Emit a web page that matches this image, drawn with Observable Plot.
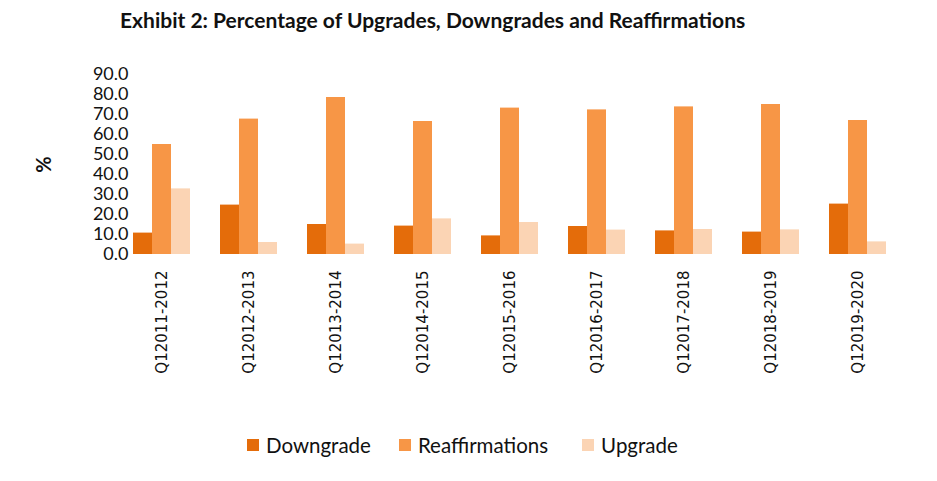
<!DOCTYPE html>
<html>
<head>
<meta charset="utf-8">
<script src="https://cdn.jsdelivr.net/npm/d3@7"></script>
<script src="https://cdn.jsdelivr.net/npm/@observablehq/plot@0.6"></script>
<style>
  html, body { margin: 0; padding: 0; background: #fff; }
  body { width: 937px; height: 481px; overflow: hidden; position: relative; font-family: Lato, "Open Sans", sans-serif; }
  #title { position: absolute; left: 120px; top: 7px; font-family: Lato, sans-serif; font-weight: bold; font-size: 21px; color: #111; white-space: nowrap; }
  #chart { position: absolute; left: 0; top: 40px; }
  #legend { position: absolute; left: 247px; top: 433px; display: flex; align-items: center; font-family: Lato, sans-serif; font-size: 20.5px; color: #111; }
  .item { display: flex; align-items: center; }
  .sw { width: 12px; height: 12px; margin-right: 7px; }
</style>
</head>
<body>
<div id="title">Exhibit 2: Percentage of Upgrades, Downgrades and Reaffirmations</div>
<div id="chart"></div>
<div id="legend"></div>
<script>
const periods = ["Q12011-2012","Q12012-2013","Q12013-2014","Q12014-2015","Q12015-2016","Q12016-2017","Q12017-2018","Q12018-2019","Q12019-2020"];
const seriesNames = ["Downgrade","Reaffirmations","Upgrade"];
const seriesColors = ["#E46C0A","#F79646","#FBD4B4"];
const downgrade      = [10.7, 24.7, 15.0, 14.2,  9.3, 14.0, 11.8, 11.2, 25.2];
const reaffirmations = [55.0, 67.7, 78.5, 66.5, 73.2, 72.3, 73.8, 75.0, 67.0];
const upgrade        = [32.8,  6.0,  5.2, 17.8, 16.0, 12.2, 12.5, 12.3,  6.3];
const yTicks = [0, 10, 20, 30, 40, 50, 60, 70, 80, 90];

const seriesValues = [downgrade, reaffirmations, upgrade];
const rows = [];
periods.forEach((p, i) => {
  seriesNames.forEach((s, j) => rows.push({period: p, series: s, value: seriesValues[j][i]}));
});

const chart = Plot.plot({
  width: 937,
  height: 345,
  marginTop: 34,
  marginBottom: 131,
  marginLeft: 102,
  marginRight: 20,
  style: {fontFamily: "Lato, sans-serif", fontSize: "18px", color: "#111", background: "transparent"},
  fx: {domain: periods, paddingInner: 0.34, paddingOuter: 0.34, label: null},
  x: {domain: seriesNames, padding: 0, axis: null},
  y: {domain: [0, 90], label: null},
  color: {domain: seriesNames, range: seriesColors},
  marks: [
    Plot.barY(rows, {fx: "period", x: "series", y: "value", fill: "series"}),
    Plot.axisY({ticks: yTicks, tickFormat: d => d.toFixed(1), tickSize: 0, tickPadding: 5, fontSize: 18,
      label: "%", labelAnchor: "center", labelOffset: 97, labelArrow: "none"}),
    Plot.axisFx({anchor: "bottom", tickRotate: -90, tickSize: 0, tickPadding: 16, label: null,
      fontFamily: "DejaVu Sans", fontSize: 15, textOverflow: null, lineWidth: Infinity})
  ]
});
document.getElementById("chart").appendChild(chart);

// make the "%" label bold
chart.querySelectorAll("g[aria-label='y-axis label'] text, g[aria-label='y-axis label']").forEach(el => {
  el.setAttribute("font-weight", "bold");
  el.setAttribute("font-size", "20");
});

const legend = document.getElementById("legend");
const gaps = [28, 34, 0];
seriesNames.forEach((s, j) => {
  const item = document.createElement("div");
  item.className = "item";
  item.style.marginRight = gaps[j] + "px";
  const sw = document.createElement("div");
  sw.className = "sw";
  sw.style.background = seriesColors[j];
  const t = document.createElement("span");
  t.textContent = s;
  item.appendChild(sw); item.appendChild(t);
  legend.appendChild(item);
});
</script>
</body>
</html>
